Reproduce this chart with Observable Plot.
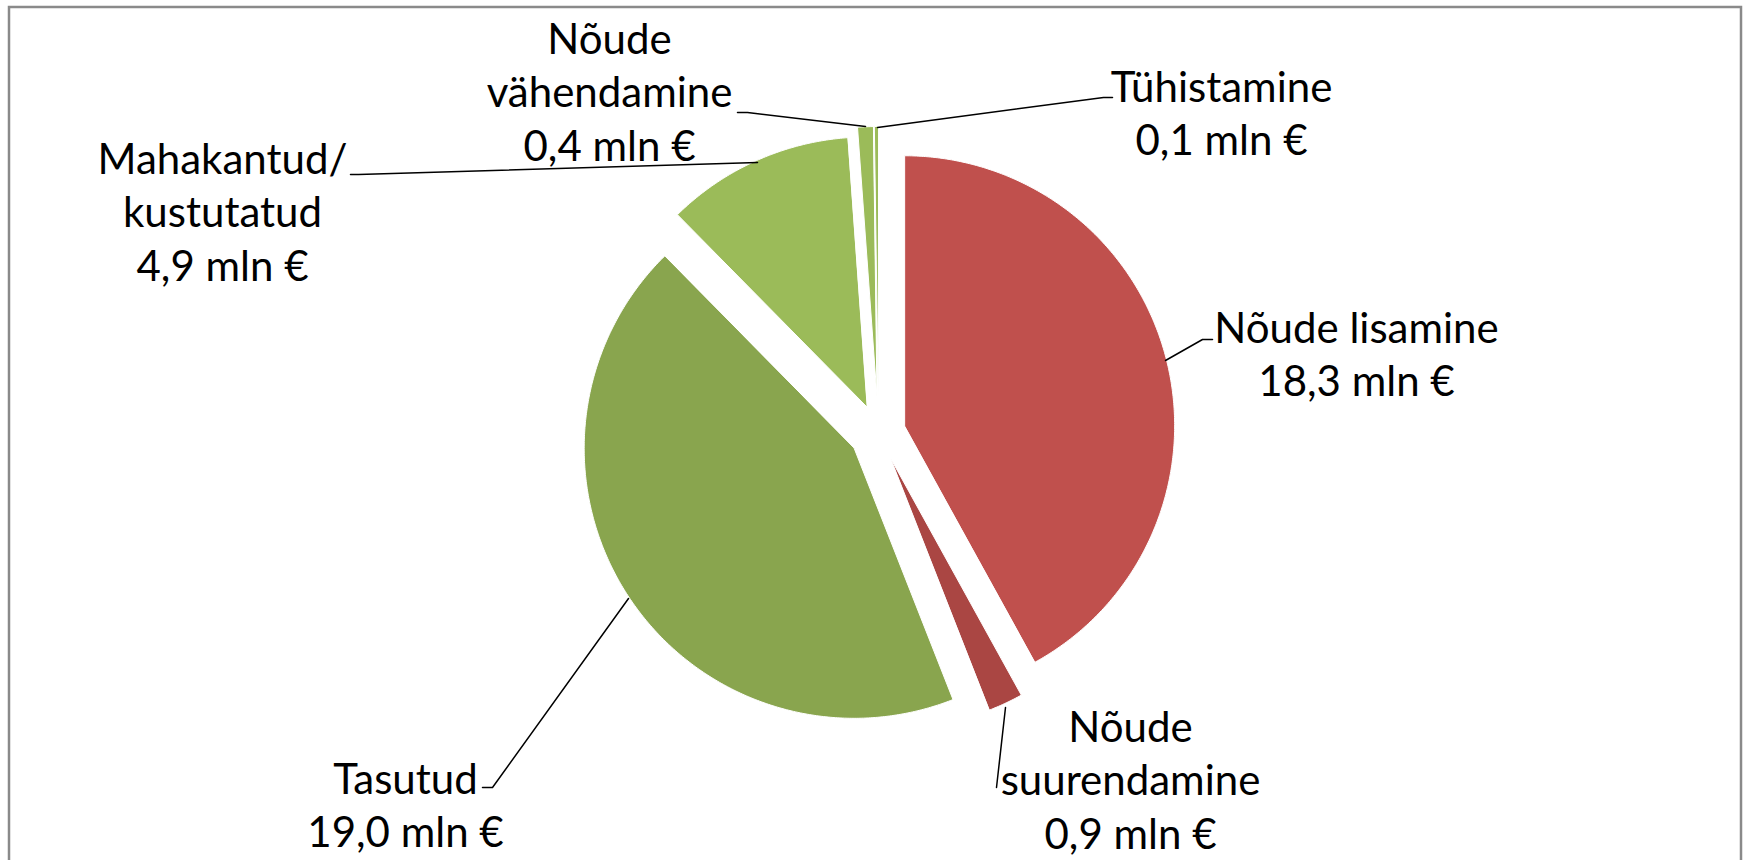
<!DOCTYPE html>
<html>
<head>
<meta charset="utf-8">
<script src="https://cdn.jsdelivr.net/npm/d3@7"></script>
<script src="https://cdn.jsdelivr.net/npm/@observablehq/plot@0.6"></script>
<style>
  html, body { margin: 0; padding: 0; background: #fff; overflow: hidden; }
  #chart svg { display: block; }
</style>
</head>
<body>
<div id="chart"></div>
<script>
// ---- DATA ----
const categories = ["Nõude lisamine", "Nõude suurendamine", "Tasutud", "Mahakantud/kustutatud", "Nõude vähendamine", "Tühistamine"];
const labelTexts = ["Nõude lisamine", "Nõude\nsuurendamine", "Tasutud", "Mahakantud/\nkustutatud", "Nõude\nvähendamine", "Tühistamine"];
const values = [18.3, 0.9, 19.0, 4.9, 0.4, 0.1]; // mln €
const unit = "mln €";

// ---- STYLE / LAYOUT ----
const W = 1745, H = 860;
const palette = ["#C0504D", "#AA4643", "#89A54E", "#9BBB59", "#9BBB59", "#9BBB59"];
const pie = {cx: 878, cy: 432, r: 270};
const explode = [27, 29, 29, 28, 36, 36];
const fontSize = 42, lineHeight = 1.28;
// label anchor: centre x and first baseline
const labelPos = [
  {x: 1356, b: 342}, {x: 1130, b: 741}, {x: 405, b: 793},
  {x: 222, b: 173}, {x: 609, b: 53}, {x: 1221, b: 101}
];
const leaders = [
  [[1165, 360], [1202, 339], [1212, 339]],
  [[1005, 707], [996, 787]],
  [[628, 598], [492, 787], [482, 787]],
  [[350, 174], [358, 174], [757, 162]],
  [[737, 112], [747, 112], [865, 126]],
  [[877, 127], [1103, 97], [1112, 97]]
];

// ---- build slices from values ----
const total = d3.sum(values);
let acc = 0;
const slicePts = [];
values.forEach((v, i) => {
  const a0 = acc / total * 2 * Math.PI;
  acc += v;
  const a1 = acc / total * 2 * Math.PI;
  const am = (a0 + a1) / 2;
  const ax = pie.cx + explode[i] * Math.sin(am);
  const ay = pie.cy - explode[i] * Math.cos(am);
  slicePts.push({name: categories[i], x: ax, y: ay});
  const n = Math.max(2, Math.ceil((a1 - a0) / (Math.PI / 360)));
  for (let k = 0; k <= n; k++) {
    const a = a0 + (a1 - a0) * k / n;
    slicePts.push({name: categories[i], x: ax + pie.r * Math.sin(a), y: ay - pie.r * Math.cos(a)});
  }
});

const fmt = v => d3.format(".1f")(v).replace(".", ",") + " " + unit;
// Plot offsets the first line of a top-anchored block by 0.71 * lineHeight em
const labels = categories.map((c, i) => ({
  name: c,
  text: labelTexts[i] + "\n" + fmt(values[i]),
  x: labelPos[i].x,
  y: labelPos[i].b - 0.71 * lineHeight * fontSize
}));
const leaderPts = leaders.flatMap((pts, i) => pts.map(([x, y]) => ({name: categories[i], x, y})));

const chart = Plot.plot({
  width: W, height: H,
  margin: 0,
  x: {domain: [0, W], range: [0, W], axis: null},
  y: {domain: [0, H], range: [0, H], axis: null},
  color: {domain: categories, range: palette},
  marks: [
    Plot.rect([{x1: 9, x2: 1741, y1: 7, y2: 900}], {x1: "x1", x2: "x2", y1: "y1", y2: "y2", fill: "none", stroke: "#8a8a8a", strokeWidth: 2.5}),
    Plot.line(slicePts, {x: "x", y: "y", z: "name", fill: "name", stroke: "white", strokeWidth: 1, curve: "linear-closed"}),
    Plot.line(leaderPts, {x: "x", y: "y", z: "name", stroke: "black", strokeWidth: 1.5}),
    Plot.text(labels, {x: "x", y: "y", text: "text", fontSize, fontFamily: "Lato", lineAnchor: "top", lineHeight, textAnchor: "middle", fill: "black"})
  ]
});
document.getElementById("chart").appendChild(chart);
</script>
</body>
</html>
